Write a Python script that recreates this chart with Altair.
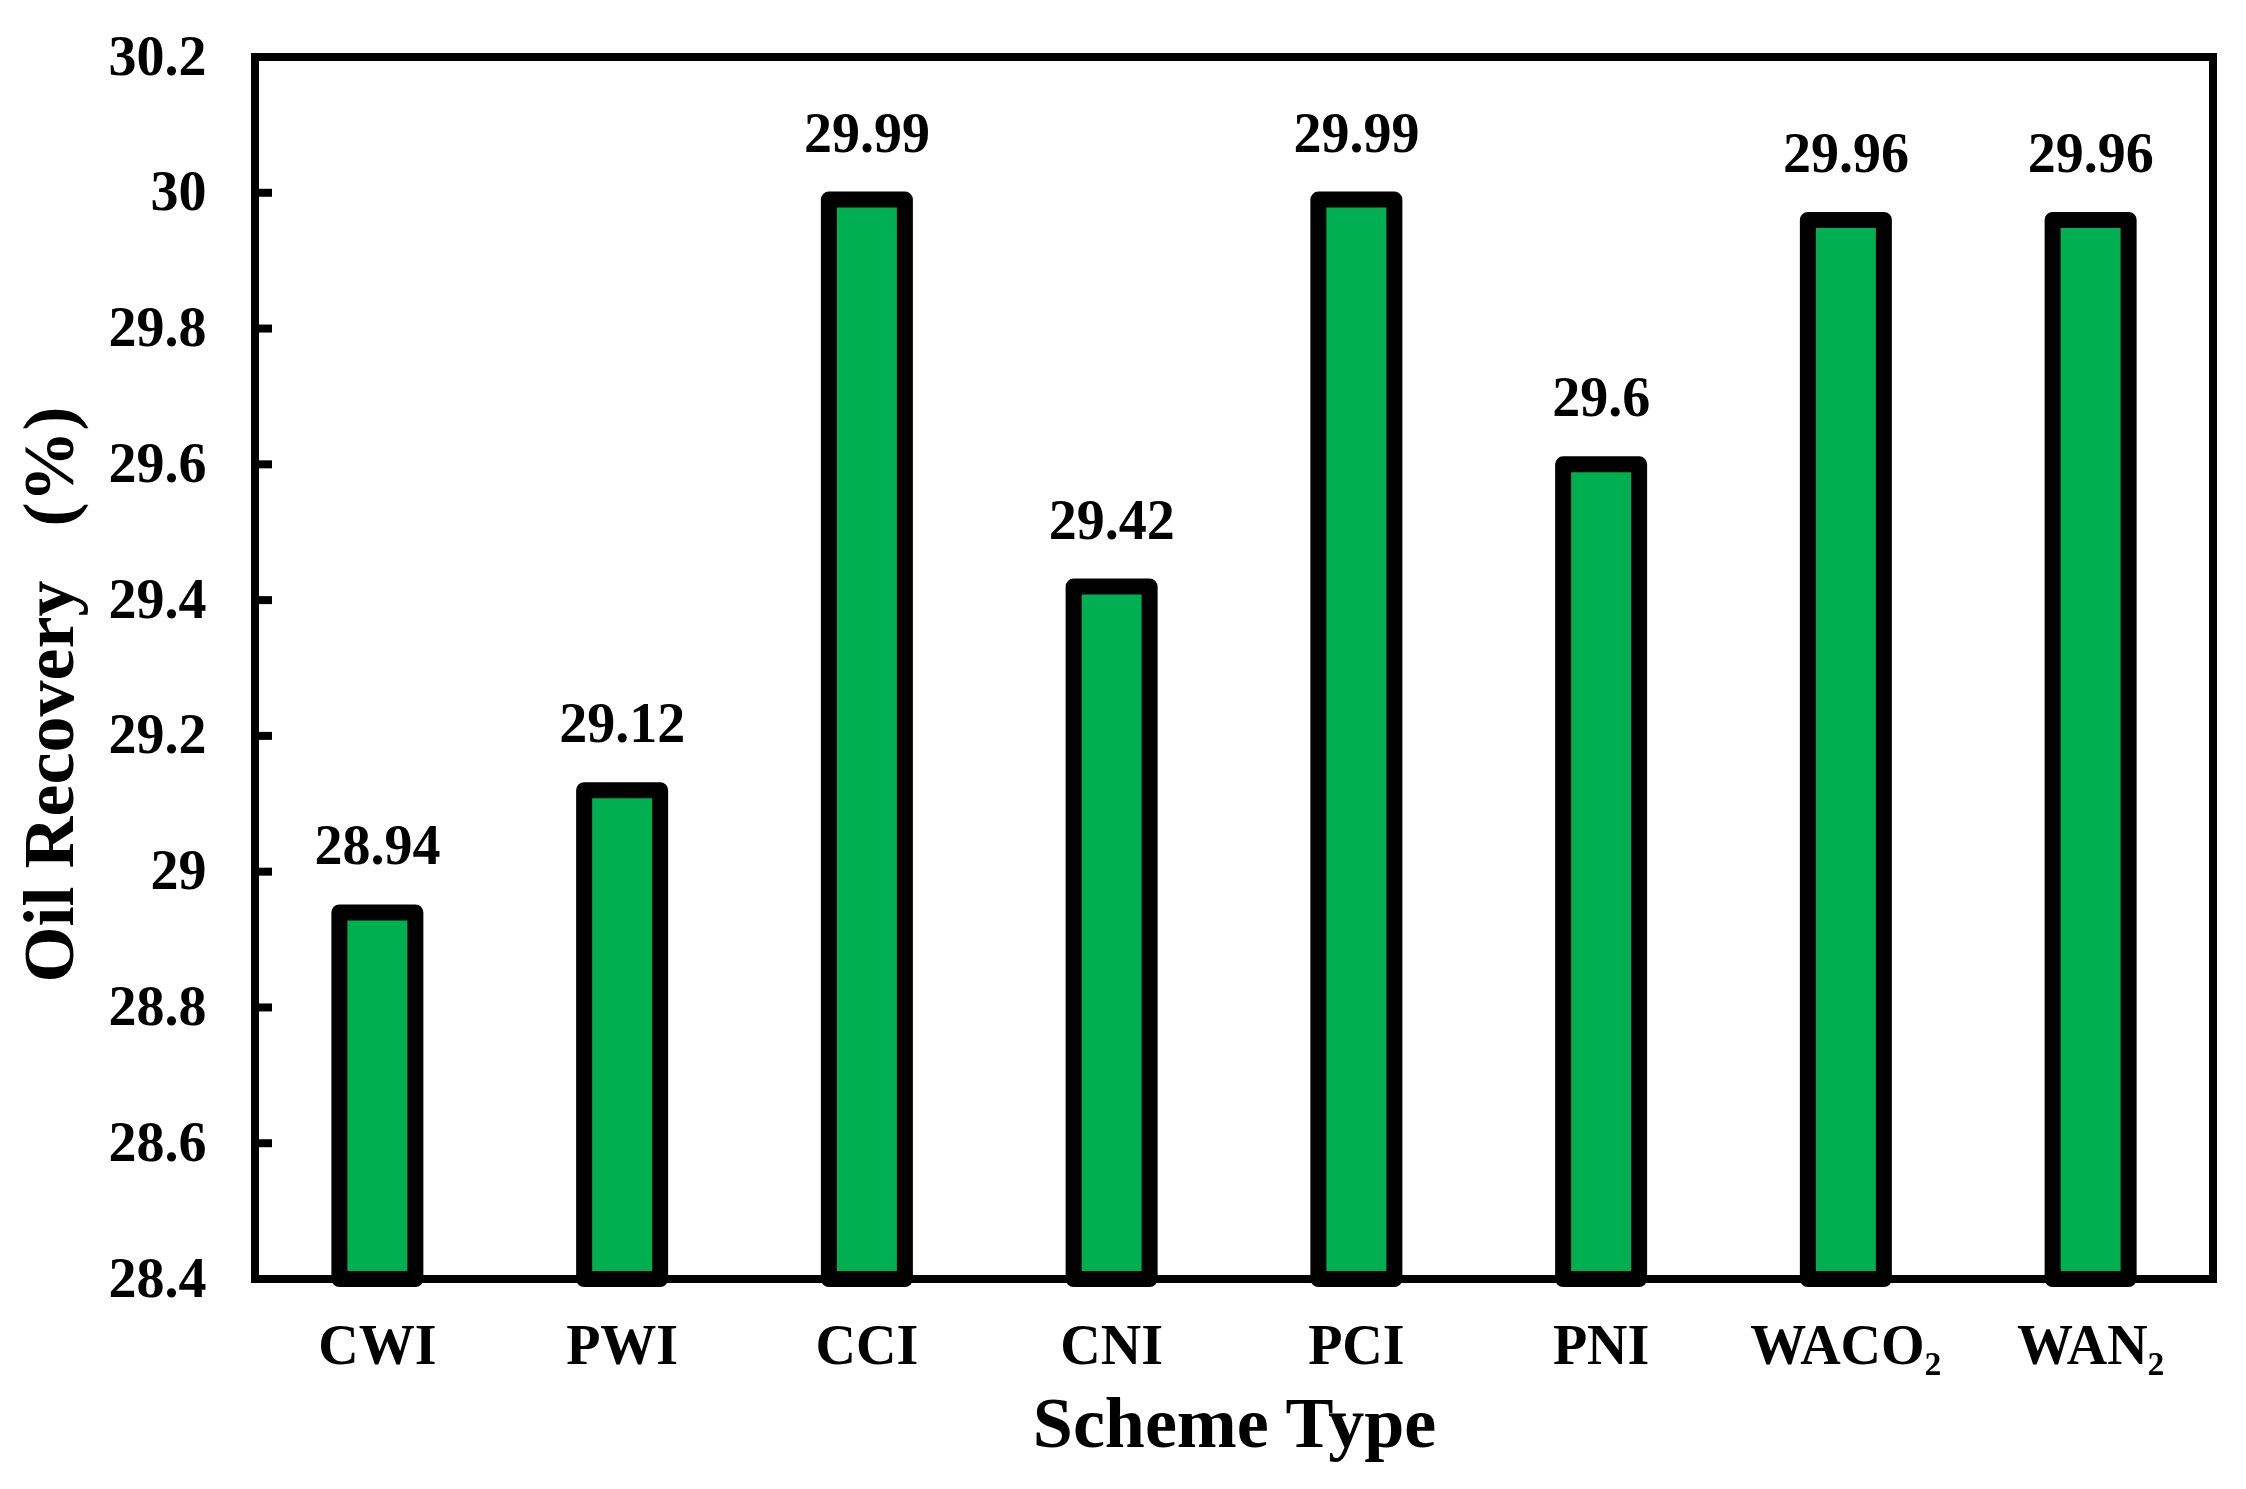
import altair as alt
import pandas as pd

# ---- data ----
schemes = ["CWI", "PWI", "CCI", "CNI", "PCI", "PNI", "WACO₂", "WAN₂"]
recovery = [28.94, 29.12, 29.99, 29.42, 29.99, 29.60, 29.96, 29.96]
y_ticks = [28.4, 28.6, 28.8, 29.0, 29.2, 29.4, 29.6, 29.8, 30.0, 30.2]
y_min, y_max = 28.4, 30.2
inner_ticks = y_ticks[1:-1]

FONT = "Times New Roman, Liberation Serif, DejaVu Serif, serif"
GREEN = "#00B050"

df = pd.DataFrame({"scheme": schemes, "recovery": recovery})
ticks_df = pd.DataFrame({"tick": inner_ticks})

y_scale = alt.Scale(domain=[y_min, y_max], zero=False, nice=False)
x_scale = alt.Scale(paddingInner=0, paddingOuter=0)

x_axis = alt.Axis(
    title="Scheme Type",
    labelAngle=0,
    domain=False,
    ticks=False,
    tickSize=0,
    grid=False,
    labelLimit=600,
    labelFont=FONT,
    labelFontWeight="bold",
    labelFontSize=56,
    labelColor="black",
    labelBaseline="alphabetic",
    labelPadding=84,
    titleFont=FONT,
    titleFontWeight="bold",
    titleFontSize=72,
    titleColor="black",
    titleBaseline="alphabetic",
    titleY=167,
)

y_axis = alt.Axis(
    title="Oil Recovery\u00a0\u00a0\u00a0(%)",
    values=y_ticks,
    format="~g",
    domain=False,
    ticks=False,
    tickSize=0,
    grid=False,
    labelFlush=False,
    labelLimit=600,
    labelFont=FONT,
    labelFontWeight="bold",
    labelFontSize=56,
    labelColor="black",
    labelPadding=49,
    titleFont=FONT,
    titleFontWeight="bold",
    titleFontSize=72,
    titleColor="black",
    titleLimit=2000,
    titleAngle=270,
    titleAlign="center",
    titleBaseline="alphabetic",
    titleX=-183,
    titleY=637,
)

bars = alt.Chart(df).mark_bar(
    size=76, color=GREEN, stroke="black", strokeWidth=16, strokeJoin="round"
).encode(
    x=alt.X("scheme:N", sort=schemes, scale=x_scale, axis=x_axis),
    y=alt.Y("recovery:Q", scale=y_scale, axis=y_axis),
    y2=alt.datum(y_min),
)

tick_marks = alt.Chart(ticks_df).mark_rule(color="black", strokeWidth=8).encode(
    y=alt.Y("tick:Q", scale=y_scale, axis=y_axis),
    x=alt.value(0),
    x2=alt.value(17),
)

labels = alt.Chart(df).mark_text(
    dy=-48,
    baseline="alphabetic",
    align="center",
    font=FONT,
    fontWeight="bold",
    fontSize=56,
    color="black",
).encode(
    x=alt.X("scheme:N", sort=schemes, scale=x_scale, axis=x_axis),
    y=alt.Y("recovery:Q", scale=y_scale, axis=y_axis),
    text=alt.Text("recovery:Q", format="~g"),
)

chart = (
    alt.layer(bars, tick_marks, labels)
    .properties(
        width=1958,
        height=1222,
        autosize=alt.AutoSizeParams(type="none"),
        padding={"left": 247, "top": 49, "right": 25, "bottom": 202},
        background="white",
    )
    .configure_view(stroke="black", strokeWidth=8)
)

chart.save("out.html", embed_options={"renderer": "svg", "actions": False})
